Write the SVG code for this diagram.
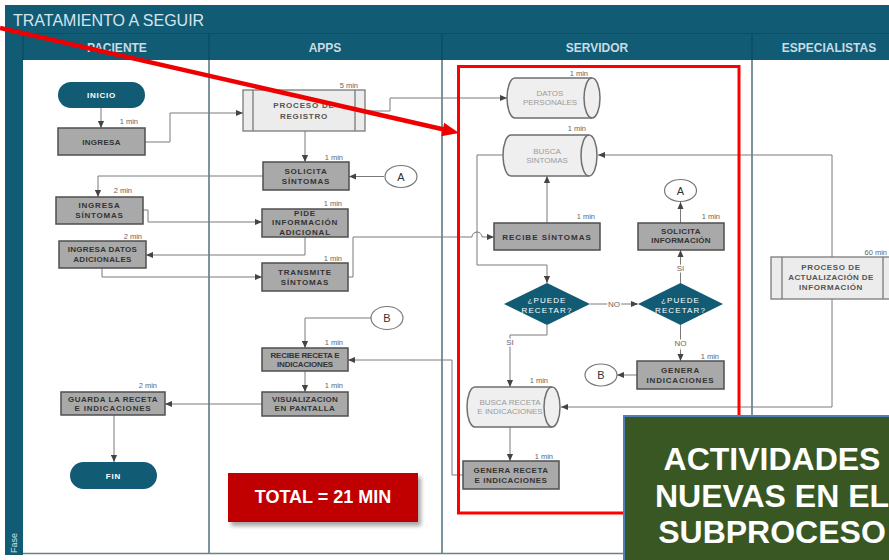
<svg xmlns="http://www.w3.org/2000/svg" width="889" height="560" viewBox="0 0 889 560">
<defs>
<style>
.tk{fill:#a9a9a9;stroke:#4f4f4f;stroke-width:1.5}
.pp{fill:#ececec;stroke:#7a7a7a;stroke-width:1.3}
.cy{fill:#efefef;stroke:#6f6f6f;stroke-width:1.5}
.dm{fill:#125b74}
.ci{fill:#fff;stroke:#777;stroke-width:1.2}
.c{fill:none;stroke:#7a7a7a;stroke-width:1;marker-end:url(#ah)}
.cn{fill:none;stroke:#7a7a7a;stroke-width:1}
text{font-family:"Liberation Sans",Arial,sans-serif}
.t{font-size:8px;font-weight:bold;fill:#333;text-anchor:middle;letter-spacing:0.8px}
.tc{font-size:8px;fill:#9b9b9b;text-anchor:middle}
.tw{font-size:8px;font-weight:bold;fill:#fff;text-anchor:middle;letter-spacing:0.8px}
.td{font-size:8px;fill:#fff;text-anchor:middle;letter-spacing:1.1px}
.m{font-size:7.5px;fill:#666;text-anchor:end}
.lb{font-size:8px;fill:#666;text-anchor:middle;stroke:#fff;stroke-width:3px;paint-order:stroke}
.hd{font-size:12px;font-weight:bold;fill:#c9dbe4;text-anchor:middle}
.ct{font-size:11px;fill:#333;text-anchor:middle}
</style>
<marker id="ah" viewBox="0 0 8 8" refX="8" refY="4" markerWidth="7" markerHeight="7" orient="auto" markerUnits="userSpaceOnUse"><path d="M0,0.5 L8,4 L0,7.5 Z" fill="#444"/></marker>
<filter id="sh" x="-10%" y="-10%" width="130%" height="140%"><feGaussianBlur stdDeviation="2"/></filter>
</defs>
<rect x="0" y="0" width="889" height="560" fill="#fff"/>
<g id="frame">
<rect x="5" y="5" width="884" height="55" fill="#125b74"/>
<rect x="5" y="5" width="18" height="550" fill="#125b74"/>
<rect x="23" y="60" width="866" height="493" fill="#fff"/>
<line x1="23" y1="33.5" x2="889" y2="33.5" stroke="#0d4e64" stroke-width="1"/>
<line x1="23" y1="33" x2="23" y2="60" stroke="#0d4e64" stroke-width="1.5"/>
<line x1="209" y1="33" x2="209" y2="60" stroke="#0d4e64" stroke-width="1.5"/>
<line x1="442" y1="33" x2="442" y2="60" stroke="#0d4e64" stroke-width="1.5"/>
<line x1="752" y1="33" x2="752" y2="60" stroke="#0d4e64" stroke-width="1.5"/>
<line x1="209" y1="60" x2="209" y2="553" stroke="#52707e" stroke-width="1.5"/>
<line x1="442" y1="60" x2="442" y2="553" stroke="#52707e" stroke-width="1.5"/>
<line x1="752" y1="60" x2="752" y2="553" stroke="#52707e" stroke-width="1.5"/>
<line x1="23" y1="553.5" x2="889" y2="553.5" stroke="#6d7f88" stroke-width="1.5"/>
<text x="13" y="26" font-size="16" fill="#d6e4ec">TRATAMIENTO A SEGUIR</text>
<text class="hd" x="117" y="52">PACIENTE</text>
<text class="hd" x="325" y="52">APPS</text>
<text class="hd" x="597" y="52">SERVIDOR</text>
<text class="hd" x="829" y="52">ESPECIALISTAS</text>
<text x="17" y="543" font-size="9" fill="#cfe0e8" text-anchor="middle" transform="rotate(-90 17 543)">Fase</text>
</g>
<g id="connectors">
<path class="c" d="M101 108 V128"/>
<path class="c" d="M145 142 H170 V113 H243"/>
<path class="c" d="M365 111 H390 V98 H507"/>
<path class="c" d="M305 131 V162"/>
<path class="c" d="M384 176.5 H349"/>
<path class="c" d="M263 176 H98 V197"/>
<path class="c" d="M143 210 H148 V222 H262"/>
<path class="c" d="M305 237 V255 H146"/>
<path class="c" d="M102 268 V277 H262"/>
<path class="c" d="M348 277 H353 V237 H472 A5 5 0 0 1 482 237 H494"/>
<path class="c" d="M547 223 V176"/>
<path class="c" d="M503 155 H477 V265 H547 V283"/>
<path class="c" d="M590 304 H638"/>
<text class="lb" x="614" y="307">NO</text>
<path class="c" d="M680.5 283 V250"/>
<text class="lb" x="680.5" y="271">SI</text>
<path class="c" d="M680.5 223 V202"/>
<path class="c" d="M680.5 325 V361"/>
<text class="lb" x="680.5" y="346">NO</text>
<path class="c" d="M637 375 H617"/>
<path class="c" d="M547 325 V335 H510 V387"/>
<text class="lb" x="510" y="345">SI</text>
<path class="c" d="M832 257 V155 H598"/>
<path class="c" d="M832 299 V407 H561"/>
<path class="c" d="M510 427 V461"/>
<path class="c" d="M463 475 H452 V360 H348"/>
<path class="c" d="M371 318 H305 V348"/>
<path class="c" d="M305 371 V392"/>
<path class="c" d="M262 404 H165"/>
<path class="c" d="M114 415 V462"/>
</g>
<g id="inicio"><rect x="58" y="82" width="87" height="26" rx="13" fill="#125b74"/><text class="tw" x="101.5" y="98">INICIO</text></g>
<g id="ingresa"><rect class="tk" x="58" y="128" width="87" height="27"/><text class="t" x="101.5" y="144.5" style="letter-spacing:0.3px">INGRESA</text><text class="m" x="138" y="124">1 min</text></g>
<g id="proceso-registro"><rect class="pp" x="243" y="90" width="122" height="41"/><line x1="253" y1="90" x2="253" y2="131" stroke="#7a7a7a" stroke-width="1.3"/><line x1="355" y1="90" x2="355" y2="131" stroke="#7a7a7a" stroke-width="1.3"/><text class="t" x="304" y="108" style="fill:#555">PROCESO DE</text><text class="t" x="304" y="119" style="fill:#555">REGISTRO</text><text class="m" x="358" y="88">5 min</text></g>
<g id="solicita-sintomas"><rect class="tk" x="263" y="162" width="86" height="28"/><text class="t" x="306" y="174">SOLICITA</text><text class="t" x="306" y="183.5">SÍNTOMAS</text><text class="m" x="343" y="159.5">1 min</text></g>
<g id="conector-a1"><ellipse class="ci" cx="401" cy="176.5" rx="16" ry="11"/><text class="ct" x="401" y="180.5">A</text></g>
<g id="ingresa-sintomas"><rect class="tk" x="56" y="197" width="87" height="27"/><text class="t" x="99.5" y="207.5">INGRESA</text><text class="t" x="99.5" y="217.5">SÍNTOMAS</text><text class="m" x="132" y="193">2 min</text></g>
<g id="pide-info"><rect class="tk" x="262" y="209" width="86" height="28"/><text class="t" x="305" y="215.5">PIDE</text><text class="t" x="305" y="225">INFORMACIÓN</text><text class="t" x="305" y="234.5">ADICIONAL</text><text class="m" x="342" y="206">1 min</text></g>
<g id="ingresa-datos"><rect class="tk" x="59" y="241" width="87" height="27"/><text class="t" x="102.5" y="252" style="letter-spacing:0.3px">INGRESA DATOS</text><text class="t" x="102.5" y="262" style="letter-spacing:0.3px">ADICIONALES</text><text class="m" x="142" y="238.5">2 min</text></g>
<g id="transmite"><rect class="tk" x="262" y="263" width="86" height="28"/><text class="t" x="305" y="275">TRANSMITE</text><text class="t" x="305" y="284.5">SÍNTOMAS</text><text class="m" x="342" y="260.5">1 min</text></g>
<g id="datos-personales"><path class="cy" d="M515 78 H592 A8 20 0 0 1 592 118 H515 A8 20 0 0 1 515 78 Z"/><path class="cy" style="fill:none" d="M592 78 A8 20 0 0 0 592 118"/><text class="tc" x="550" y="96">DATOS</text><text class="tc" x="550" y="105">PERSONALES</text><text class="m" x="588" y="75.5">1 min</text></g>
<g id="busca-sintomas"><path class="cy" d="M511 135 H589 A8 20.5 0 0 1 589 176 H511 A8 20.5 0 0 1 511 135 Z"/><path class="cy" style="fill:none" d="M589 135 A8 20.5 0 0 0 589 176"/><text class="tc" x="547" y="154">BUSCA</text><text class="tc" x="547" y="163">SINTOMAS</text><text class="m" x="586" y="131">1 min</text></g>
<g id="recibe-sintomas"><rect class="tk" x="494" y="223" width="106" height="27"/><text class="t" x="547" y="240" style="letter-spacing:1px">RECIBE SÍNTOMAS</text><text class="m" x="595" y="219">1 min</text></g>
<g id="solicita-info"><rect class="tk" x="638" y="223" width="86" height="27"/><text class="t" x="681" y="233.5" style="letter-spacing:0.4px">SOLICITA</text><text class="t" x="681" y="243" style="letter-spacing:0.2px">INFORMACIÓN</text><text class="m" x="720" y="219">1 min</text></g>
<g id="conector-a2"><ellipse class="ci" cx="680.5" cy="190.5" rx="16" ry="11"/><text class="ct" x="680.5" y="194.5">A</text></g>
<g id="puede-recetar-1"><path class="dm" d="M547 283 L590 304 L547 325 L504 304 Z"/><text class="td" x="547" y="303">¿PUEDE</text><text class="td" x="547" y="312.5">RECETAR?</text></g>
<g id="puede-recetar-2"><path class="dm" d="M680.5 283 L723 304 L680.5 325 L638 304 Z"/><text class="td" x="680.5" y="303">¿PUEDE</text><text class="td" x="680.5" y="312.5">RECETAR?</text></g>
<g id="genera-indicaciones"><rect class="tk" x="637" y="361" width="87" height="28"/><text class="t" x="680.5" y="373">GENERA</text><text class="t" x="680.5" y="382.5">INDICACIONES</text><text class="m" x="719" y="358.5">1 min</text></g>
<g id="conector-b2"><ellipse class="ci" cx="601" cy="375" rx="16" ry="11"/><text class="ct" x="601" y="379">B</text></g>
<g id="busca-receta"><path class="cy" d="M475 387 H552 A8 20 0 0 1 552 427 H475 A8 20 0 0 1 475 387 Z"/><path class="cy" style="fill:none" d="M552 387 A8 20 0 0 0 552 427"/><text class="tc" x="510" y="405">BUSCA RECETA</text><text class="tc" x="510" y="414">E INDICACIONES</text><text class="m" x="548" y="383">1 min</text></g>
<g id="genera-receta"><rect class="tk" x="463" y="461" width="96" height="28"/><text class="t" x="511" y="473" style="letter-spacing:0.5px">GENERA RECETA</text><text class="t" x="511" y="482.5" style="letter-spacing:0.5px">E INDICACIONES</text><text class="m" x="553" y="458.5">1 min</text></g>
<g id="proceso-actualizacion"><rect class="pp" x="771" y="257" width="124" height="42"/><line x1="782" y1="257" x2="782" y2="299" stroke="#7a7a7a" stroke-width="1.3"/><line x1="883" y1="257" x2="883" y2="299" stroke="#7a7a7a" stroke-width="1.3"/><text class="t" x="831" y="270" style="fill:#555;letter-spacing:0.6px">PROCESO DE</text><text class="t" x="831" y="280" style="fill:#555;letter-spacing:0.4px">ACTUALIZACIÓN DE</text><text class="t" x="831" y="290" style="fill:#555;letter-spacing:0.6px">INFORMACIÓN</text><text class="m" x="887" y="255">60 min</text></g>
<g id="conector-b1"><ellipse class="ci" cx="387" cy="318" rx="16" ry="11.5"/><text class="ct" x="387" y="322">B</text></g>
<g id="recibe-receta"><rect class="tk" x="262" y="348" width="86" height="23"/><text class="t" x="305" y="358" style="letter-spacing:-0.2px">RECIBE RECETA E</text><text class="t" x="305" y="367" style="letter-spacing:-0.2px">INDICACIONES</text><text class="m" x="343" y="344.5">1 min</text></g>
<g id="visualizacion"><rect class="tk" x="262" y="392" width="86" height="24"/><text class="t" x="305" y="401.5" style="letter-spacing:0.3px">VISUALIZACION</text><text class="t" x="305" y="411" style="letter-spacing:0.5px">EN PANTALLA</text><text class="m" x="343" y="388">1 min</text></g>
<g id="guarda"><rect class="tk" x="61" y="392" width="104" height="23"/><text class="t" x="113" y="401.5" style="letter-spacing:0.5px">GUARDA LA RECETA</text><text class="t" x="113" y="411" style="letter-spacing:0.8px">E INDICACIONES</text><text class="m" x="157" y="388">2 min</text></g>
<g id="fin"><rect x="70" y="462" width="87" height="27" rx="13.5" fill="#125b74"/><text class="tw" x="113.5" y="478.5">FIN</text></g>
<g id="total"><rect x="231" y="477" width="190" height="49" fill="#000" opacity="0.35" filter="url(#sh)"/><rect x="228" y="473" width="190" height="49" fill="#c00000"/><text x="323" y="503" font-size="18" font-weight="bold" fill="#fff" text-anchor="middle">TOTAL = 21 MIN</text></g>
<g id="highlight"><rect x="458.5" y="66.5" width="280.5" height="446.5" fill="none" stroke="#ff0000" stroke-width="3"/></g>
<g id="red-arrow"><line x1="0" y1="28" x2="445" y2="129.8" stroke="#ee0000" stroke-width="4.5"/><path d="M459 133 L444.2 122.7 L441.3 136.3 Z" fill="#ee0000"/></g>
<g id="nuevas"><rect x="624" y="416" width="270" height="150" fill="#385723" stroke="#4f7fb5" stroke-width="2"/><text x="772" y="470" font-size="32" font-weight="bold" fill="#fff" text-anchor="middle">ACTIVIDADES</text><text x="772" y="507" font-size="32" font-weight="bold" fill="#fff" text-anchor="middle">NUEVAS EN EL</text><text x="772" y="543" font-size="32" font-weight="bold" fill="#fff" text-anchor="middle">SUBPROCESO</text></g>
</svg>
